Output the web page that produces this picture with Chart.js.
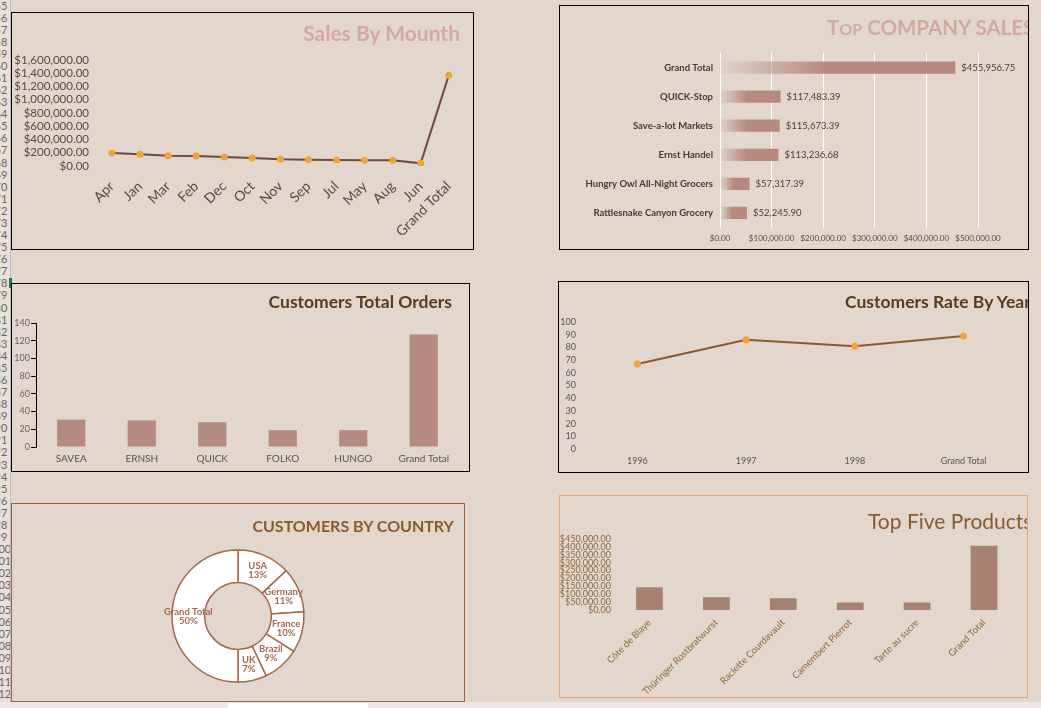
<!DOCTYPE html>
<html>
<head>
<meta charset="utf-8">
<script src="https://cdn.jsdelivr.net/npm/chart.js@4.4.1/dist/chart.umd.min.js"></script>
<style>
  body { margin: 0; width: 1041px; height: 708px; background: #e3d6cd; position: relative; overflow: hidden; font-family: Lato, "Open Sans", sans-serif; }
  .box { position: absolute; border: 1px solid #000; overflow: hidden; }
  .box canvas { position: absolute; left: 0; top: 0; }
  .title { position: absolute; white-space: nowrap; font-family: Lato, sans-serif; font-weight: 700; line-height: 1; }
  #rows { position: absolute; left: -8px; top: 0; width: 18px; height: 708px; overflow: hidden; border-right: 1px solid #c4bcb6; background: #e8e0da; }
  #rows div { position: absolute; left: 0; width: 18px; text-align: center; font: 11px Lato, sans-serif; color: #666; line-height: 11px; }
  #rowMark { position: absolute; left: 9px; top: 278px; width: 3px; height: 10px; background: #217346; }
  #bottomBar { position: absolute; left: 0; top: 702px; width: 1041px; height: 6px; background: #ebe8e6; }
  #bottomTab { position: absolute; left: 228px; top: 703px; width: 140px; height: 5px; background: #fff; }
</style>
</head>
<body>
<div id="rows"></div>
<div id="rowMark"></div>

<div class="box" style="left:11px; top:12px; width:461px; height:236px;">
  <canvas id="salesMonth" width="461" height="236"></canvas>
  <div class="title" style="right:13px; top:9px; font-size:21px; color:#d4a8a0;">Sales By Mounth</div>
</div>

<div class="box" style="left:559px; top:5px; width:468px; height:243px;">
  <canvas id="companySales" width="468" height="243"></canvas>
  <div class="title" style="left:267px; top:11px; font-size:20.5px; color:#d3a99f;">T<span style="font-size:16px;">OP</span> COMPANY SALES</div>
</div>

<div class="box" style="left:11px; top:283px; width:457px; height:187px;">
  <canvas id="custOrders" width="457" height="187"></canvas>
  <div class="title" style="right:17px; top:9px; font-size:17.5px; color:#5b3b1c;">Customers Total Orders</div>
</div>

<div class="box" style="left:558px; top:281px; width:469px; height:190px;">
  <canvas id="custRate" width="469" height="190"></canvas>
  <div class="title" style="left:286px; top:11px; font-size:17.5px; color:#5b3b1c;">Customers Rate By Year</div>
</div>

<div class="box" style="left:11px; top:503px; width:452px; height:197px; border-color:#a0603a;">
  <canvas id="custCountry" width="452" height="197"></canvas>
  <div class="title" style="right:10px; top:14px; font-size:16px; color:#8b5a2b;">CUSTOMERS BY COUNTRY</div>
</div>

<div class="box" style="left:559px; top:495px; width:467px; height:201px; border-color:#e6a870;">
  <canvas id="topProducts" width="467" height="201"></canvas>
  <div class="title" style="left:308px; top:14px; font-size:21px; font-weight:400; color:#8b5a2b;">Top Five Products</div>
</div>

<div id="bottomBar"></div>
<div id="bottomTab"></div>

<script>
// Sales by month
const monthLabels = ['Apr', 'Jan', 'Mar', 'Feb', 'Dec', 'Oct', 'Nov', 'Sep', 'Jul', 'May', 'Aug', 'Jun', 'Grand Total'];
const monthSales = [196000, 176000, 156000, 151000, 136000, 121000, 101000, 96000, 91000, 86000, 86000, 40000, 1368000];

// Top company sales
const companyNames = ['Grand Total', 'QUICK-Stop', 'Save-a-lot Markets', 'Ernst Handel', 'Hungry Owl All-Night Grocers', 'Rattlesnake Canyon Grocery'];
const companySales = [455956.75, 117483.39, 115673.39, 113236.68, 57317.39, 52245.90];

// Customers total orders
const customerIds = ['SAVEA', 'ERNSH', 'QUICK', 'FOLKO', 'HUNGO', 'Grand Total'];
const customerOrders = [31, 30, 28, 19, 19, 127];

// Customers rate by year
const rateYears = ['1996', '1997', '1998', 'Grand Total'];
const rateValues = [67, 86, 81, 89];

// Customers by country
const countryNames = ['USA', 'Germany', 'France', 'Brazil', 'UK', 'Grand Total'];
const countryCounts = [13, 11, 10, 9, 7, 50];

// Top five products
const productNames = ['Côte de Blaye', 'Thüringer Rostbratwurst', 'Raclette Courdavault', 'Camembert Pierrot', 'Tarte au sucre', 'Grand Total'];
const productSales = [144000, 81000, 74000, 47000, 47000, 407000];

// excel row header on the left
const rows = document.getElementById('rows');
for (let i = 0; i < 59; i++) {
    const d = document.createElement('div');
    d.style.top = (i * 12.08 - 0.5) + 'px';
    d.textContent = 55 + i;
    rows.appendChild(d);
}

Chart.defaults.animation = false;
Chart.defaults.responsive = false;
Chart.defaults.font.family = 'Lato, "Open Sans", sans-serif';
Chart.defaults.plugins.legend.display = false;
Chart.defaults.plugins.tooltip.enabled = false;

function money(v) {
    return '$' + Number(v).toLocaleString('en-US', { minimumFractionDigits: 2, maximumFractionDigits: 2 });
}

function fixWidth(w) { return scale => { scale.width = w; }; }
function fixHeight(h) { return scale => { scale.height = h; }; }

const noGrid = { display: false, drawTicks: false };
const orange = '#f2a23a';

// 1. Sales By Mounth
new Chart(document.getElementById('salesMonth'), {
    type: 'line',
    data: {
        labels: monthLabels,
        datasets: [{
            data: monthSales,
            borderColor: '#6e4b3a',
            borderWidth: 2,
            pointBackgroundColor: orange,
            pointBorderWidth: 0,
            pointRadius: 3.5,
            tension: 0
        }]
    },
    options: {
        layout: { padding: { left: 0, right: 10, top: 47, bottom: 0 } },
        scales: {
            x: {
                offset: true,
                grid: noGrid,
                border: { display: false },
                ticks: { color: '#5b4a36', font: { size: 14 }, minRotation: 45, maxRotation: 45, padding: 12, autoSkip: false },
                afterFit: fixHeight(83)
            },
            y: {
                min: 0, max: 1600000,
                grid: noGrid,
                border: { display: false },
                ticks: { stepSize: 200000, autoSkip: false, color: '#5b4a36', font: { size: 11.5 }, padding: 9, callback: money },
                afterFit: fixWidth(86)
            }
        }
    }
});

// 2. Top company sales
const pinkBar = 'rgba(183,138,128,1)';
const valueLabels = {
    id: 'valueLabels',
    afterDatasetsDraw(chart) {
        const ctx = chart.ctx;
        ctx.save();
        ctx.font = '9.5px Lato, sans-serif';
        ctx.fillStyle = '#4e3e2c';
        ctx.textBaseline = 'middle';
        chart.getDatasetMeta(0).data.forEach((bar, i) => {
            ctx.fillText(money(companySales[i]), bar.x + 6, bar.y);
        });
        ctx.restore();
    }
};

new Chart(document.getElementById('companySales'), {
    type: 'bar',
    data: {
        labels: companyNames,
        datasets: [{
            data: companySales,
            backgroundColor: c => {
                const chart = c.chart;
                if (!chart.chartArea || c.raw === undefined) return pinkBar;
                const x0 = chart.scales.x.getPixelForValue(0);
                const x1 = chart.scales.x.getPixelForValue(c.raw);
                const g = chart.ctx.createLinearGradient(x0, 0, x1, 0);
                g.addColorStop(0, 'rgba(183,138,128,0.03)');
                g.addColorStop(0.45, pinkBar);
                g.addColorStop(1, pinkBar);
                return g;
            },
            barPercentage: 0.42,
            categoryPercentage: 1
        }]
    },
    options: {
        indexAxis: 'y',
        layout: { padding: { left: 0, right: 50, top: 47, bottom: 0 } },
        scales: {
            x: {
                min: 0, max: 500000,
                grid: { color: '#ffffff', lineWidth: 1, drawTicks: false },
                border: { display: false },
                ticks: { stepSize: 100000, autoSkip: false, minRotation: 0, maxRotation: 0, color: '#5b4a36', font: { size: 8 }, padding: 6, callback: money },
                afterFit: fixHeight(21.5)
            },
            y: {
                grid: noGrid,
                border: { display: false },
                ticks: { color: '#4a3a28', font: { size: 9.5, weight: 'bold' }, padding: 7 },
                afterFit: fixWidth(160)
            }
        }
    },
    plugins: [valueLabels]
});

// 3. Customers total orders
new Chart(document.getElementById('custOrders'), {
    type: 'bar',
    data: {
        labels: customerIds,
        datasets: [{
            data: customerOrders,
            backgroundColor: '#b58a80',
            barPercentage: 0.4,
            categoryPercentage: 1
        }]
    },
    options: {
        layout: { padding: { left: 0, right: 10, top: 39, bottom: 0 } },
        scales: {
            x: {
                grid: noGrid,
                border: { display: false },
                ticks: { color: '#555', font: { size: 10 }, padding: 6 },
                afterFit: fixHeight(24)
            },
            y: {
                min: 0, max: 140,
                grid: { drawOnChartArea: false, color: '#000', tickLength: 5 },
                border: { color: '#000', width: 1 },
                ticks: { stepSize: 20, autoSkip: false, color: '#666', font: { size: 9 }, padding: 1 },
                afterFit: fixWidth(24)
            }
        }
    }
});

// 4. Customers rate by year
new Chart(document.getElementById('custRate'), {
    type: 'line',
    data: {
        labels: rateYears,
        datasets: [{
            data: rateValues,
            borderColor: '#8b5a2b',
            borderWidth: 2,
            pointBackgroundColor: orange,
            pointBorderWidth: 0,
            pointRadius: 3.5,
            tension: 0
        }]
    },
    options: {
        layout: { padding: { left: 0, right: 10, top: 40, bottom: 0 } },
        scales: {
            x: {
                offset: true,
                grid: noGrid,
                border: { display: false },
                ticks: { color: '#555', font: { size: 9 }, padding: 7 },
                afterFit: fixHeight(23)
            },
            y: {
                min: 0, max: 100,
                grid: noGrid,
                border: { display: false },
                ticks: { stepSize: 10, autoSkip: false, color: '#555', font: { size: 9 }, padding: 7 },
                afterFit: fixWidth(24)
            }
        }
    }
});

// 5. Customers by country
const sliceLabels = {
    id: 'sliceLabels',
    afterDatasetsDraw(chart) {
        const ctx = chart.ctx;
        const total = countryCounts.reduce((a, b) => a + b, 0);
        ctx.save();
        ctx.font = 'bold 9.5px Lato, sans-serif';
        ctx.fillStyle = '#a5674a';
        ctx.textAlign = 'center';
        ctx.textBaseline = 'middle';
        chart.getDatasetMeta(0).data.forEach((arc, i) => {
            const p = arc.tooltipPosition();
            ctx.fillText(countryNames[i], p.x, p.y - 4.5);
            ctx.fillText(Math.round(countryCounts[i] / total * 100) + '%', p.x, p.y + 4.5);
        });
        ctx.restore();
    }
};

new Chart(document.getElementById('custCountry'), {
    type: 'doughnut',
    data: {
        labels: countryNames,
        datasets: [{
            data: countryCounts,
            backgroundColor: '#ffffff',
            borderColor: '#a5674a',
            borderWidth: 1.5
        }]
    },
    options: {
        radius: 66,
        cutout: 33,
        layout: { padding: { left: 160, right: 160, top: 46, bottom: 19 } }
    },
    plugins: [sliceLabels]
});

// 6. Top five products
new Chart(document.getElementById('topProducts'), {
    type: 'bar',
    data: {
        labels: productNames,
        datasets: [{
            data: productSales,
            backgroundColor: '#a88270',
            barPercentage: 0.4,
            categoryPercentage: 1
        }]
    },
    options: {
        layout: { padding: { left: 0, right: 9.5, top: 43, bottom: 0 } },
        scales: {
            x: {
                grid: noGrid,
                border: { display: false },
                ticks: { color: '#8b6a3a', font: { size: 9.5 }, minRotation: 45, maxRotation: 45, padding: 7, autoSkip: false },
                afterFit: fixHeight(87)
            },
            y: {
                min: 0, max: 450000,
                grid: noGrid,
                border: { display: false },
                ticks: { stepSize: 50000, autoSkip: false, color: '#8b6a3a', font: { size: 9, lineHeight: 1 }, padding: 5, callback: money },
                afterFit: fixWidth(56)
            }
        }
    }
});
</script>
</body>
</html>
